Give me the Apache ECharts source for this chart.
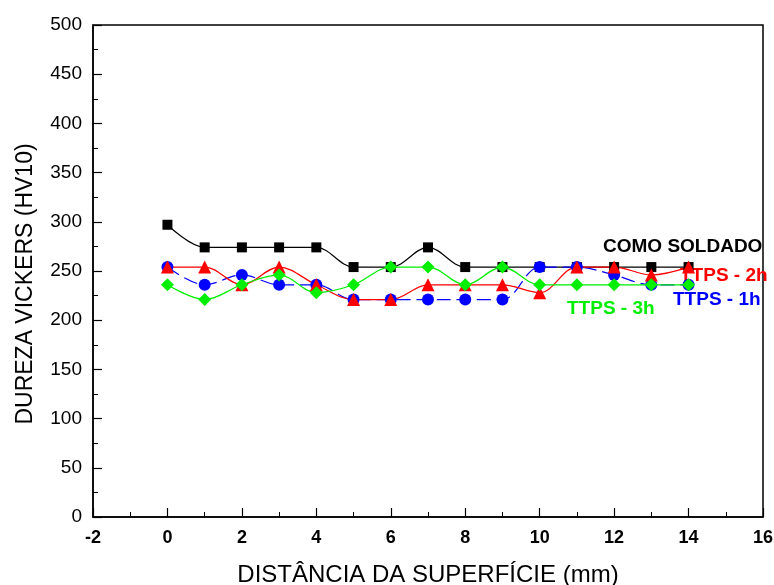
<!DOCTYPE html>
<html>
<head>
<meta charset="utf-8">
<script src="https://cdn.jsdelivr.net/npm/echarts@6/dist/echarts.min.js"></script>
<style>
  html, body { margin: 0; padding: 0; background: #fff; }
  #main { width: 774px; height: 585px; }
</style>
</head>
<body>
<div id="main"></div>
<script>
// distância da superfície (mm)
var distancia = [0, 1, 2, 3, 4, 5, 6, 7, 8, 9, 10, 11, 12, 13, 14];
// dureza HV10 por condição
var comoSoldado = [297, 274, 274, 274, 274, 254, 254, 274, 254, 254, 254, 254, 254, 254, 254];
var ttps1h = [254, 236, 246, 236, 236, 221, 221, 221, 221, 221, 254, 254, 246, 236, 236];
var ttps2h = [254, 254, 236, 254, 236, 221, 221, 236, 236, 236, 228, 254, 254, 246, 254];
var ttps3h = [236, 221, 236, 246, 228, 236, 254, 254, 236, 254, 236, 236, 236, 236, 236];

function pares(ys) {
  return distancia.map(function (x, i) { return [x, ys[i]]; });
}

var fonte = "'Liberation Sans', Arial, sans-serif";

var chart = echarts.init(document.getElementById('main'));

var eixoComum = {
  axisLine: { show: true, onZero: false, lineStyle: { color: '#000', width: 1.5 } },
  axisTick: { show: true, inside: true, length: 9, lineStyle: { color: '#000', width: 1.2 } },
  minorTick: { show: true, splitNumber: 2, length: 5, lineStyle: { color: '#000', width: 1 } },
  splitLine: { show: false }
};

function serie(nome, dados, cor, simbolo, tamanho, tipoLinha) {
  return {
    name: nome,
    type: 'line',
    data: pares(dados),
    smooth: 0.35,
    symbol: simbolo,
    symbolSize: tamanho,
    showAllSymbol: true,
    lineStyle: { color: cor, width: 1.2, type: tipoLinha || 'solid' },
    itemStyle: { color: cor },
    emphasis: { disabled: true },
    animation: false
  };
}

chart.setOption({
  animation: false,
  grid: {
    left: 93, right: 11, top: 25, bottom: 68,
    outerBoundsMode: 'none',
    show: true, borderColor: '#000', borderWidth: 1.5
  },
  xAxis: Object.assign({}, eixoComum, {
    type: 'value',
    min: -2, max: 16, interval: 2,
    name: 'DISTÂNCIA DA SUPERFÍCIE (mm)',
    nameLocation: 'middle',
    nameGap: 46,
    nameTextStyle: { fontFamily: fonte, fontSize: 24, color: '#000' },
    axisLabel: { color: '#000', fontFamily: fonte, fontWeight: 'bold', fontSize: 18, margin: 12 }
  }),
  yAxis: Object.assign({}, eixoComum, {
    type: 'value',
    min: 0, max: 500, interval: 50,
    name: 'DUREZA VICKERS (HV10)',
    nameLocation: 'middle',
    nameGap: 56,
    nameTextStyle: { fontFamily: fonte, fontSize: 23, color: '#000', padding: [0, 26, 0, 0] },
    axisLabel: { color: '#000', fontFamily: fonte, fontSize: 19, margin: 11 }
  }),
  series: [
    serie('COMO SOLDADO', comoSoldado, '#000000', 'rect', 10),
    serie('TTPS - 1h', ttps1h, '#0000ff', 'circle', 12, [14, 6]),
    serie('TTPS - 2h', ttps2h, '#ff0000', 'triangle', 13),
    serie('TTPS - 3h', ttps3h, '#00ee00', 'diamond', 13)
  ],
  graphic: [
    { type: 'text', left: 603, top: 237, style: { text: 'COMO SOLDADO', fill: '#000', font: 'bold 19px ' + fonte } },
    { type: 'text', left: 680, top: 266, style: { text: 'TTPS - 2h', fill: '#ff0000', font: 'bold 19px ' + fonte } },
    { type: 'text', left: 673, top: 290, style: { text: 'TTPS - 1h', fill: '#0000ff', font: 'bold 19px ' + fonte } },
    { type: 'text', left: 567, top: 299, style: { text: 'TTPS - 3h', fill: '#00ee00', font: 'bold 19px ' + fonte } }
  ]
});
</script>
</body>
</html>
